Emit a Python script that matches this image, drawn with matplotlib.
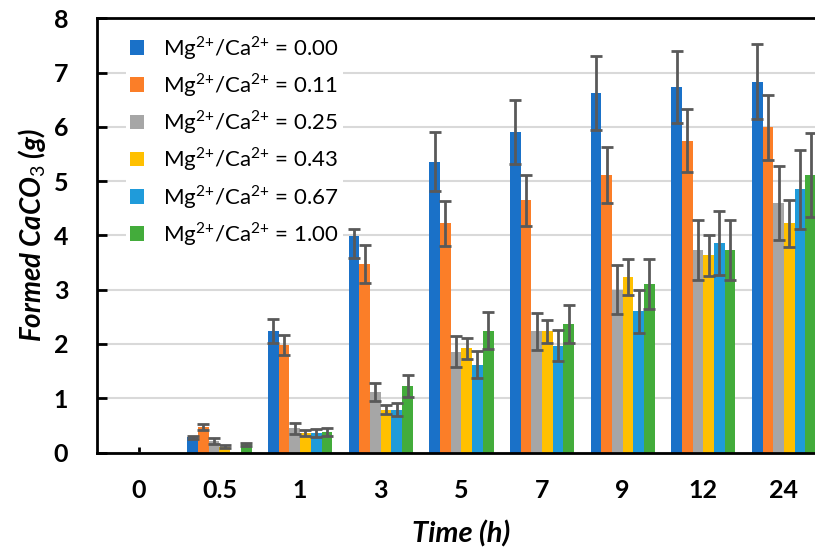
import matplotlib
matplotlib.use("Agg")
import matplotlib.pyplot as plt
from matplotlib.patches import Patch
import numpy as np

plt.rcParams['font.family'] = ['Lato', 'DejaVu Sans']
plt.rcParams['mathtext.fontset'] = 'custom'
plt.rcParams['mathtext.rm'] = 'Lato'
plt.rcParams['mathtext.it'] = 'Lato:italic:bold'
plt.rcParams['mathtext.bf'] = 'Lato:bold'

times = ['0', '0.5', '1', '3', '5', '7', '9', '12', '24']
series_labels = ['0.00', '0.11', '0.25', '0.43', '0.67', '1.00']

mg000 = [0, 0.28, 2.24, 3.98, 5.36, 5.90, 6.62, 6.73, 6.83]
mg000_err_lo = [0, 0.03, 0.22, 0.40, 0.54, 0.59, 0.68, 0.66, 0.69]
mg000_err_hi = [0, 0.03, 0.22, 0.13, 0.54, 0.59, 0.68, 0.66, 0.69]
mg011 = [0, 0.47, 1.98, 3.48, 4.22, 4.65, 5.11, 5.74, 5.99]
mg011_err = [0, 0.06, 0.19, 0.35, 0.42, 0.47, 0.51, 0.58, 0.60]
mg025 = [0, 0.21, 0.45, 1.11, 1.86, 2.23, 3.00, 3.73, 4.60]
mg025_err = [0, 0.05, 0.10, 0.17, 0.29, 0.34, 0.45, 0.56, 0.68]
mg043 = [0, 0.11, 0.36, 0.79, 1.92, 2.23, 3.23, 3.63, 4.22]
mg043_err = [0, 0.02, 0.06, 0.08, 0.19, 0.22, 0.33, 0.37, 0.43]
mg067 = [0, 0, 0.36, 0.79, 1.62, 1.97, 2.60, 3.86, 4.85]
mg067_err = [0, 0, 0.07, 0.12, 0.25, 0.29, 0.39, 0.59, 0.73]
mg100 = [0, 0.15, 0.38, 1.23, 2.24, 2.36, 3.11, 3.73, 5.11]
mg100_err = [0, 0.03, 0.07, 0.20, 0.34, 0.35, 0.46, 0.56, 0.77]

values = [mg000, mg011, mg025, mg043, mg067, mg100]
errs_lo = [mg000_err_lo, mg011_err, mg025_err, mg043_err, mg067_err, mg100_err]
errs_hi = [mg000_err_hi, mg011_err, mg025_err, mg043_err, mg067_err, mg100_err]
colors = ['#1A71C8', '#FB7E28', '#A6A6A6', '#FFC000', '#1F9BDA', '#43AC3B']

fig = plt.figure(figsize=(8.15, 5.49), dpi=100)
ax = fig.add_axes([97.3 / 815, (549 - 452.5) / 549, 727 / 815, (452.5 - 18.3) / 549])

x = np.arange(len(times))
w = 0.1327
for i, (vals, elo, ehi, c) in enumerate(zip(values, errs_lo, errs_hi, colors)):
    pos = x + (i - 2.5) * w
    ax.bar(pos, vals, width=w, color=c, zorder=2)
    v = np.array(vals)
    m = v > 0
    ax.errorbar(pos[m], v[m], yerr=[np.array(elo)[m], np.array(ehi)[m]], fmt='none',
                ecolor='#595959', elinewidth=2, capsize=4, capthick=2, zorder=3)

ax.set_xlim(-0.515, 8.5)
ax.set_ylim(0, 8)
ax.set_yticks(range(0, 9))
ax.set_xticks(x)
ax.set_xticklabels(times)
ax.yaxis.grid(True, color='#D9D9D9', linewidth=1.5, zorder=0)
ax.set_axisbelow(True)
for s in ax.spines.values():
    s.set_linewidth(2)
    s.set_color('black')
ax.tick_params(axis='y', direction='in', length=7, width=2, pad=21, labelsize=18)
ax.tick_params(axis='x', direction='in', length=4, width=2, pad=19, labelsize=18)
for lab in ax.get_xticklabels() + ax.get_yticklabels():
    lab.set_fontweight('bold')

ax.set_xlabel('Time (h)', fontsize=21, fontweight='bold', fontstyle='italic', labelpad=13)
ax.set_ylabel(r'Formed CaCO$_{3}$ (g)', fontsize=20, fontweight='bold', fontstyle='italic', labelpad=4)

handles = [Patch(facecolor=c, edgecolor='none') for c in colors]
labels = [r'Mg$^{2{+}}$/Ca$^{2{+}}$ = ' + s for s in series_labels]
leg = ax.legend(handles, labels, loc='upper left', bbox_to_anchor=(0.024, 1.0),
                frameon=True, fontsize=16, handlelength=0.62, handleheight=0.62,
                handletextpad=0.85, labelspacing=0.42, borderpad=0.2)
leg.get_frame().set_facecolor('white')
leg.get_frame().set_edgecolor('none')
leg.get_frame().set_alpha(1)

fig.savefig('out.png', dpi=100)
